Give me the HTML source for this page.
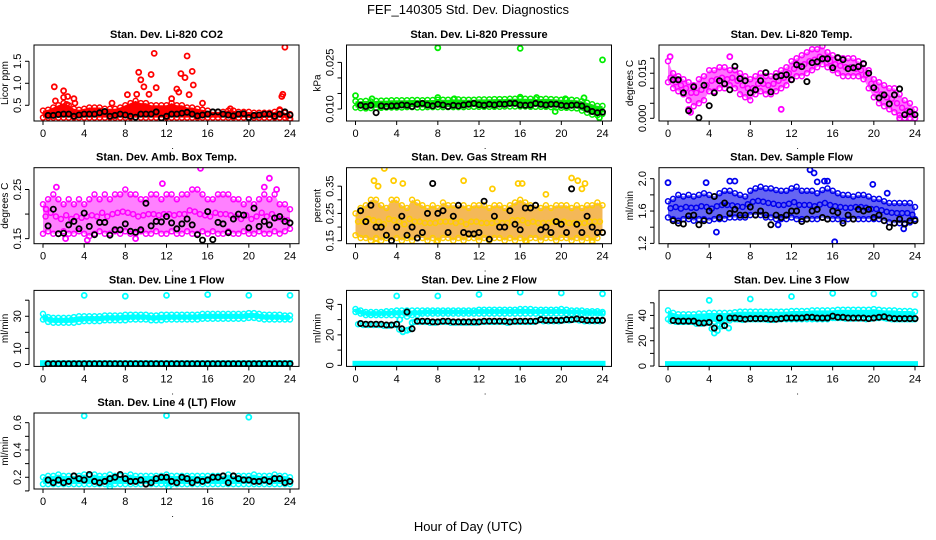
<!DOCTYPE html>
<html><head><meta charset="utf-8"><style>
body{margin:0;background:#fff;}
svg{display:block;font-family:"Liberation Sans",sans-serif;}
</style></head><body>
<svg id="c" width="936" height="540">
<text x="468" y="14" text-anchor="middle" font-size="13">FEF_140305  Std. Dev. Diagnostics</text>
<text x="468" y="531" text-anchor="middle" font-size="13">Hour of Day (UTC)</text>
</svg>
<script>
// ---- data (band lo/hi at 0.5h steps 0..24; black at 0.5..24) ----
const co2Lo=[0.22,0.22,0.22,0.22,0.22,0.22,0.22,0.22,0.22,0.22,0.22,0.22,0.22,0.22,0.22,0.22,0.22,0.22,0.22,0.22,0.22,0.22,0.22,0.22,0.22,0.22,0.22,0.22,0.22,0.22,0.22,0.22,0.22,0.22,0.22,0.22,0.22,0.22,0.22,0.22,0.22,0.22,0.22,0.22,0.22,0.22,0.22,0.22,0.2];
const co2Hi=[0.38,0.4,0.45,0.5,0.55,0.5,0.42,0.4,0.42,0.45,0.45,0.45,0.42,0.42,0.42,0.45,0.5,0.55,0.6,0.55,0.55,0.5,0.5,0.5,0.5,0.55,0.5,0.5,0.45,0.45,0.42,0.4,0.38,0.35,0.35,0.35,0.38,0.38,0.35,0.35,0.35,0.33,0.33,0.33,0.33,0.35,0.38,0.33,0.3];
const co2Out=[[1.1,0.92],[2,0.83],[2,0.68],[2.4,0.7],[3,0.65],[2.3,0.52],[8.2,0.74],[9.3,1.25],[9.5,1.08],[9.8,0.92],[10.5,1.2],[10.8,1.68],[11,0.9],[9.1,0.75],[10.3,0.75],[13,0.87],[13.4,1.22],[13.8,1.13],[14,1.62],[14.5,1.27],[14.6,0.96],[14.2,0.74],[13.2,0.8],[15.5,0.55],[23.5,1.82],[23.3,0.75],[23.2,0.7],[6.7,0.55],[12.5,0.65],[1.2,0.6],[3.1,0.55],[18.2,0.42],[23,0.4],[24,0.18]];
const co2Blk=[0.27,0.27,0.29,0.3,0.3,0.25,0.28,0.3,0.3,0.3,0.33,0.36,0.25,0.27,0.3,0.28,0.25,0.23,0.3,0.3,0.3,0.35,0.21,0.25,0.3,0.3,0.32,0.34,0.3,0.26,0.28,0.3,0.35,0.35,0.3,0.28,0.26,0.3,0.31,0.22,0.27,0.28,0.3,0.3,0.25,0.3,0.35,0.28];

const prLo=[0.0105,0.0103,0.0102,0.0103,0.0104,0.0104,0.0105,0.0105,0.0105,0.0105,0.0106,0.0106,0.0105,0.0105,0.0106,0.0106,0.0106,0.0106,0.0106,0.0106,0.0106,0.0106,0.0107,0.0107,0.0107,0.0107,0.0107,0.0107,0.0107,0.0108,0.0108,0.0108,0.0108,0.0108,0.0107,0.0107,0.0107,0.0107,0.0106,0.0105,0.0104,0.0104,0.0103,0.0102,0.0095,0.0088,0.0082,0.008,0.0084];
const prHi=[0.0125,0.0125,0.0126,0.0124,0.0126,0.0127,0.0127,0.0128,0.0128,0.0128,0.0128,0.0129,0.0129,0.0128,0.0129,0.0129,0.013,0.013,0.013,0.0131,0.0131,0.013,0.013,0.013,0.0131,0.0131,0.0131,0.0132,0.0132,0.0132,0.0133,0.0133,0.0133,0.0133,0.0133,0.0132,0.0132,0.0133,0.0132,0.0131,0.013,0.013,0.013,0.0128,0.0125,0.012,0.0115,0.011,0.011];
const prOut=[[0,0.0143],[8,0.0297],[16,0.0295],[24,0.0258],[8,0.0137],[16,0.0138],[17.6,0.0137],[23.7,0.0072],[19.4,0.0092],[1.6,0.0133],[9.6,0.0133],[22.2,0.0136],[20.4,0.0133]];
const prBlk=[0.0112,0.0108,0.0112,0.0088,0.011,0.0108,0.011,0.011,0.0113,0.0112,0.0108,0.0115,0.0118,0.0113,0.011,0.0115,0.0113,0.0108,0.0112,0.011,0.0113,0.0115,0.0118,0.0114,0.0112,0.0115,0.0113,0.0116,0.0115,0.0118,0.0118,0.0113,0.0112,0.0113,0.0118,0.0115,0.0113,0.0115,0.0115,0.0112,0.011,0.0112,0.0113,0.011,0.01,0.0092,0.0088,0.009];

const tpLo=[0.012,0.01,0.009,0.008,0.006,0.004,0.005,0.006,0.009,0.009,0.01,0.01,0.011,0.01,0.008,0.007,0.006,0.008,0.009,0.008,0.008,0.009,0.01,0.011,0.013,0.014,0.014,0.015,0.016,0.017,0.018,0.017,0.016,0.015,0.014,0.014,0.014,0.014,0.013,0.01,0.007,0.005,0.004,0.003,0.002,0.001,0.0,0.0,0.0];
const tpHi=[0.019,0.015,0.014,0.013,0.012,0.011,0.013,0.014,0.016,0.016,0.017,0.017,0.016,0.016,0.015,0.014,0.013,0.014,0.015,0.014,0.014,0.015,0.016,0.017,0.019,0.02,0.021,0.022,0.023,0.023,0.024,0.022,0.021,0.02,0.02,0.02,0.02,0.019,0.018,0.016,0.013,0.012,0.011,0.01,0.01,0.008,0.006,0.005,0.003];
const tpOut=[[0.2,0.0205],[2.2,0.002],[2,0.003],[6,0.0205],[11,0.003],[22.5,0.0],[23,0.0],[23.5,0.0]];
const tpBlk=[0.0128,0.0128,0.0085,0.0025,0.0105,0.0002,0.011,0.0042,0.0085,0.0125,0.0115,0.0095,0.0173,0.0132,0.0125,0.0085,0.0095,0.0125,0.0152,0.0088,0.0138,0.0142,0.0145,0.0128,0.0178,0.0172,0.0122,0.0185,0.0188,0.0198,0.0198,0.0168,0.0202,0.0195,0.0165,0.0168,0.0172,0.0182,0.015,0.0102,0.0068,0.0078,0.0048,0.0078,0.0098,0.0012,0.0022,0.0012];

const amLo=[0.16,0.165,0.16,0.16,0.165,0.16,0.16,0.165,0.16,0.155,0.16,0.165,0.16,0.16,0.165,0.16,0.165,0.16,0.16,0.165,0.16,0.16,0.165,0.16,0.16,0.165,0.16,0.16,0.165,0.16,0.16,0.165,0.16,0.165,0.16,0.16,0.165,0.16,0.16,0.165,0.16,0.16,0.165,0.16,0.16,0.165,0.16,0.165,0.17];
const amHi=[0.22,0.23,0.24,0.23,0.22,0.23,0.22,0.23,0.22,0.23,0.24,0.23,0.24,0.23,0.24,0.24,0.25,0.24,0.24,0.23,0.23,0.24,0.24,0.23,0.24,0.24,0.23,0.24,0.24,0.25,0.25,0.24,0.23,0.23,0.24,0.24,0.24,0.23,0.23,0.22,0.23,0.22,0.23,0.24,0.23,0.24,0.22,0.22,0.21];
const amOut=[[15.3,0.293],[22,0.273],[1.3,0.255],[11.6,0.262],[21.5,0.255],[22.7,0.25],[4.3,0.147],[9,0.15],[2.2,0.15],[0.3,0.21]];
const amBlk=[0.176,0.21,0.16,0.161,0.178,0.185,0.17,0.202,0.175,0.158,0.183,0.183,0.157,0.168,0.168,0.18,0.165,0.163,0.168,0.222,0.176,0.185,0.184,0.195,0.182,0.17,0.18,0.19,0.178,0.158,0.147,0.205,0.148,0.183,0.18,0.162,0.19,0.2,0.198,0.172,0.212,0.175,0.185,0.178,0.192,0.195,0.185,0.182];

const rhLo=[0.17,0.16,0.16,0.15,0.16,0.15,0.16,0.15,0.16,0.15,0.16,0.15,0.16,0.16,0.15,0.16,0.15,0.16,0.16,0.15,0.16,0.15,0.16,0.16,0.15,0.16,0.15,0.16,0.16,0.15,0.16,0.15,0.16,0.15,0.16,0.16,0.15,0.16,0.16,0.15,0.16,0.16,0.15,0.16,0.15,0.16,0.15,0.16,0.18];
const rhHi=[0.25,0.27,0.28,0.3,0.3,0.28,0.27,0.3,0.3,0.28,0.27,0.3,0.29,0.28,0.27,0.28,0.27,0.29,0.28,0.28,0.28,0.28,0.27,0.28,0.28,0.28,0.27,0.28,0.28,0.27,0.28,0.29,0.3,0.29,0.28,0.28,0.27,0.28,0.27,0.28,0.28,0.28,0.27,0.28,0.27,0.28,0.28,0.29,0.28];
const rhOut=[[2.8,0.415],[1.8,0.37],[2.2,0.35],[3.7,0.37],[4.6,0.36],[10.5,0.37],[15.8,0.36],[16.2,0.36],[21,0.38],[21.6,0.37],[22.3,0.36],[22,0.34],[13.3,0.34],[18.5,0.32],[2,0.14],[7.9,0.145],[16.6,0.145],[23,0.145]];
const rhBlk=[0.26,0.22,0.28,0.2,0.2,0.17,0.15,0.2,0.24,0.17,0.2,0.16,0.18,0.25,0.36,0.25,0.26,0.18,0.24,0.28,0.18,0.175,0.175,0.18,0.295,0.155,0.24,0.2,0.2,0.26,0.21,0.19,0.27,0.27,0.28,0.19,0.2,0.18,0.22,0.21,0.18,0.34,0.21,0.18,0.24,0.2,0.18,0.18];

const flLo=[1.52,1.5,1.48,1.5,1.5,1.48,1.5,1.5,1.48,1.5,1.5,1.5,1.52,1.52,1.52,1.52,1.55,1.55,1.55,1.52,1.52,1.5,1.5,1.5,1.52,1.5,1.5,1.5,1.5,1.5,1.52,1.5,1.5,1.5,1.48,1.5,1.5,1.5,1.5,1.5,1.5,1.5,1.48,1.46,1.45,1.45,1.45,1.46,1.5];
const flHi=[1.72,1.75,1.8,1.78,1.8,1.78,1.8,1.82,1.8,1.78,1.82,1.85,1.85,1.82,1.8,1.78,1.85,1.88,1.9,1.88,1.88,1.86,1.85,1.85,1.88,1.9,1.85,1.85,1.85,1.82,1.86,1.88,1.85,1.82,1.8,1.8,1.78,1.8,1.8,1.78,1.75,1.75,1.72,1.7,1.7,1.7,1.7,1.7,1.65];
const flOut=[[0,1.95],[3.7,1.95],[6,1.97],[6.5,1.97],[13.8,2.11],[14.2,2.07],[14.5,1.96],[15.2,1.97],[15.5,1.97],[19.9,1.93],[21.3,1.82],[16.2,1.22],[4.7,1.34],[22.9,1.38],[10.7,1.43]];
const flBlk=[1.48,1.45,1.44,1.54,1.55,1.43,1.48,1.6,1.78,1.52,1.7,1.57,1.62,1.55,1.55,1.65,1.55,1.6,1.55,1.43,1.55,1.52,1.55,1.6,1.6,1.47,1.5,1.6,1.62,1.52,1.5,1.6,1.58,1.45,1.55,1.5,1.62,1.6,1.62,1.52,1.55,1.48,1.4,1.45,1.5,1.44,1.48,1.48];

const l1Lo=[28,26.5,26,26,26,26,26,26.5,27,27,27,27,27.5,27.5,27.5,27.5,27.5,28,28,28,28,27.5,27.5,27.5,28,28,28,28,28,28,28,28.5,28.5,28.5,28.5,28.5,28.5,28.5,28.5,28.5,29,29,28.5,28,28,28,28,28,28];
const l1Hi=[31.5,29.5,29,29,29,29,29.5,30,30,30,30,30,30.5,30.5,30.5,30.5,31,31,31,31,31,30.5,30.5,31,31,31,31,31,31,31,31,31.5,31.5,31.5,31.5,31.5,31.5,31.5,31.5,31.5,32,32,31.5,31,31,31,31,30.5,30.5];
const l1Out=[[4,43],[8,42.5],[12,43],[16,43.5],[20,43],[24,43]];
const l1Bot=[0.8];
const l1Blk=[0.5,0.5,0.5,0.5,0.5,0.5,0.5,0.5,0.5,0.5,0.5,0.5,0.5,0.5,0.5,0.5,0.5,0.5,0.5,0.5,0.5,0.5,0.5,0.5,0.5,0.5,0.5,0.5,0.5,0.5,0.5,0.5,0.5,0.5,0.5,0.5,0.5,0.5,0.5,0.5,0.5,0.5,0.5,0.5,0.5,0.5,0.5,0.5];

const l2Lo=[35,34,33,33,33,33,33,33,33,33,32,33,33,34,34,34,34,34,34,34,34,34,34,34,34,34,34,34,34,34,34,34,34,34,34,34,34,34,34,34,34,34,34,34,34,34,34,34,34];
const l2Hi=[37,36,35,35,35,35,35.5,35.5,36,36,36,36,36,36,36,36,36,36,36,36,36,36,36,36,36.5,36.5,36.5,36.5,36.5,36.5,36.5,36.5,37,37,37,36.5,36.5,36.5,36.5,36.5,37,36.5,36,36,36,35.5,35.5,35.5,35];
const l2Out=[[4,45.5],[8,45.5],[12,46.5],[16,48],[20,47.5],[24,47],[4.6,22],[5,23],[5.5,28],[4.3,30]];
const l2Bot=[1.0];
const l2Blk=[27.5,27,27,27,27,26.5,26.5,27,24,35,24,29,29,29,28.5,28.5,29,29,28.5,28.5,28.5,28.5,28.5,28.5,29,29,29,29,29,28.5,29,29,29,29,29,30,29.5,29.5,29.5,29.5,30,30,30.5,30,29.5,29.5,29.5,29.5];

const l3Lo=[37,36,35,35,35,35,35,35,35,35,33,35,36,37,37,37,37,37,37,37,37,37,37,37,37,37,37,37,37,37,37,37,38,38,38,38,38,38,38,38,38,38,38,38,37,37,37,37,37];
const l3Hi=[44,42,41,41,41,41,41.5,41.5,42,42,42,42,42,42.5,43,43,43,43,43,43,43,43,43,43,43.5,43.5,43.5,43.5,44,44,44,44,44,44.5,44.5,44.5,44.5,44.5,44.5,44.5,45,44.5,44,44,44,43.5,43.5,43.5,43];
const l3Out=[[4,52],[8,53],[12,55],[16,57.5],[20,57],[24,56.5],[4.5,26],[4.8,28],[5.9,30]];
const l3Bot=[1.5];
const l3Blk=[36,35.5,35.5,35.5,35.5,34,34,34.5,30,38,32,38,38,37.5,37,37.5,37.5,37.5,37.5,37,37,37.5,38,38,38,38,38.5,38.5,38,38,38,39.5,38.5,38.5,38,38,38,38,37.5,38,38.5,39,38,37.5,37.5,37.5,37.5,37.5];

const l4Lo=[0.15,0.15,0.15,0.15,0.15,0.15,0.15,0.15,0.15,0.15,0.15,0.15,0.15,0.15,0.15,0.15,0.15,0.15,0.15,0.15,0.15,0.15,0.15,0.15,0.15,0.15,0.15,0.15,0.15,0.15,0.15,0.15,0.15,0.15,0.15,0.15,0.15,0.15,0.15,0.15,0.15,0.15,0.15,0.15,0.15,0.15,0.15,0.15,0.15];
const l4Hi=[0.2,0.21,0.21,0.22,0.21,0.21,0.21,0.21,0.22,0.21,0.22,0.21,0.21,0.22,0.21,0.21,0.21,0.22,0.21,0.21,0.21,0.21,0.21,0.21,0.22,0.21,0.21,0.21,0.21,0.21,0.21,0.21,0.21,0.21,0.21,0.21,0.22,0.21,0.21,0.21,0.21,0.22,0.21,0.21,0.21,0.22,0.21,0.21,0.2];
const l4Out=[[4,0.65],[12,0.652],[20,0.64],[12.2,0.13],[6.5,0.13]];
const l4Blk=[0.18,0.16,0.18,0.16,0.17,0.21,0.19,0.18,0.22,0.17,0.16,0.17,0.19,0.2,0.22,0.19,0.17,0.17,0.18,0.15,0.16,0.19,0.2,0.2,0.17,0.16,0.2,0.19,0.16,0.18,0.17,0.18,0.2,0.2,0.21,0.16,0.21,0.19,0.18,0.18,0.17,0.17,0.18,0.17,0.19,0.19,0.16,0.17];

const xTicks=[0,4,8,12,16,20,24];

// ---- layout ----
const colX=[34,346.5,659], rowY=[45,167.7,290.4,413], BW=265, BH=76;
const panels=[
 {t:"Stan. Dev. Li-820 CO2",yl:"Licor ppm",c:0,r:0,y0:0.143,y1:1.87,ticks:[0.5,1.0,1.5],lab:["0.5","1.0","1.5"],lo:co2Lo,hi:co2Hi,out:co2Out,blk:co2Blk,col:"#ff0000",fill:"#ff0000"},
 {t:"Stan. Dev. Li-820 Pressure",yl:"kPa",c:1,r:0,y0:0.00614,y1:0.0306,ticks:[0.010,0.015,0.020,0.025],lab:["0.010","","","0.025"],lo:prLo,hi:prHi,out:prOut,blk:prBlk,col:"#00ee00",fill:"#22cc22"},
 {t:"Stan. Dev. Li-820 Temp.",yl:"degrees C",c:2,r:0,y0:-0.0009,y1:0.0244,ticks:[0,0.005,0.010,0.015,0.020],lab:["0.000","","","0.015",""],lo:tpLo,hi:tpHi,out:tpOut,blk:tpBlk,col:"#ff00ff",fill:"#ff44ff",sparse:true},
 {t:"Stan. Dev. Amb. Box Temp.",yl:"degrees C",c:0,r:1,y0:0.1397,y1:0.2944,ticks:[0.15,0.20,0.25],lab:["0.15","","0.25"],lo:amLo,hi:amHi,out:amOut,blk:amBlk,col:"#ff00ff",fill:"#ff55ff",sparse:true},
 {t:"Stan. Dev. Gas Stream RH",yl:"percent",c:1,r:1,y0:0.139,y1:0.4178,ticks:[0.15,0.20,0.25,0.30,0.35],lab:["0.15","","0.25","","0.35"],lo:rhLo,hi:rhHi,out:rhOut,blk:rhBlk,col:"#ffcc00",fill:"#f0a020",sparse:true},
 {t:"Stan. Dev. Sample Flow",yl:"ml/min",c:2,r:1,y0:1.196,y1:2.136,ticks:[1.2,1.4,1.6,1.8,2.0],lab:["1.2","","1.6","","2.0"],lo:flLo,hi:flHi,out:flOut,blk:flBlk,col:"#0000ee",fill:"#3333ee",sparse:true},
 {t:"Stan. Dev. Line 1 Flow",yl:"ml/min",c:0,r:2,y0:-1.2,y1:46.1,ticks:[0,10,20,30,40],lab:["0","10","","30",""],lo:l1Lo,hi:l1Hi,out:l1Out,bot:l1Bot,blk:l1Blk,col:"#00ffff",fill:"#00ffff"},
 {t:"Stan. Dev. Line 2 Flow",yl:"ml/min",c:1,r:2,y0:-0.7,y1:49.2,ticks:[0,10,20,30,40],lab:["0","","20","","40"],lo:l2Lo,hi:l2Hi,out:l2Out,bot:l2Bot,blk:l2Blk,col:"#00ffff",fill:"#00ffff",under:true},
 {t:"Stan. Dev. Line 3 Flow",yl:"ml/min",c:2,r:2,y0:-0.3,y1:59.8,ticks:[0,10,20,30,40,50],lab:["0","","20","","40",""],lo:l3Lo,hi:l3Hi,out:l3Out,bot:l3Bot,blk:l3Blk,col:"#00ffff",fill:"#00ffff",under:true},
 {t:"Stan. Dev. Line 4 (LT) Flow",yl:"ml/min",c:0,r:3,y0:0.114,y1:0.671,ticks:[0.1,0.2,0.3,0.4,0.5,0.6],lab:["","0.2","","0.4","","0.6"],lo:l4Lo,hi:l4Hi,out:l4Out,blk:l4Blk,col:"#00ffff",fill:"#00ffff"}
];
const NS="http://www.w3.org/2000/svg";
const svg=document.getElementById('c');
function mk(tag,at,parent){const e=document.createElementNS(NS,tag);for(const k in at)e.setAttribute(k,at[k]);(parent||svg).appendChild(e);return e;}
function circ(g,x,y,r,stroke,w){return mk('circle',{cx:x.toFixed(1),cy:y.toFixed(1),r:r,fill:'none',stroke:stroke,'stroke-width':w},g);}

panels.forEach((p,pi)=>{
  const L=colX[p.c],T=rowY[p.r];
  const xs=h=>L+9+h*(BW-18)/24;
  const ys=v=>T+BH-(v-p.y0)/(p.y1-p.y0)*BH;
  const slug=p.t.toLowerCase().replace(/[^a-z0-9]+/g,'-').replace(/^-|-$/g,'');
  const g=mk('g',{});
  
  
  const tt=mk('text',{x:L+BW/2,y:T-7,'text-anchor':'middle','font-size':11,'font-weight':'bold'},g);tt.textContent=p.t;
  
  
  const clip=mk('clipPath',{id:'cl'+pi},g);mk('rect',{x:L,y:T,width:BW,height:BH},clip);
  const pg=mk('g',{'clip-path':'url(#cl'+pi+')'},g);
  
  
  const n=p.lo.length;let pts=[];
  for(let i=0;i<n;i++)pts.push(xs(i*0.5).toFixed(1)+','+(ys(p.hi[i])).toFixed(1));
  for(let i=n-1;i>=0;i--)pts.push(xs(i*0.5).toFixed(1)+','+(ys(p.lo[i])).toFixed(1));
  const band=mk('polygon',{points:pts.join(' '),fill:p.fill,opacity:p.sparse?0.75:1},pg);
  
  
  for(let i=0;i<n;i++){
    const x=xs(i*0.5);
    const c1=circ(pg,x,ys(p.hi[i]),2.5,p.col,1.5);
    
    const c2=circ(pg,x,ys(p.lo[i]),2.5,p.col,1.5);
    
    if(i<n-1){
      const c3=circ(pg,xs(i*0.5+0.25),ys((p.lo[i]+p.hi[i+1])/2),2.5,p.col,1.5);
      
    }
  }
  if(p.under){
    for(let i=0;i<p.blk.length;i++){
      const c=circ(pg,xs((i+1)*0.5-0.25),ys(p.blk[i]-0.5),2.5,p.col,1.5);
      
    }
  }
  if(p.bot){
    const br=mk('rect',{x:xs(0)-3,y:ys(p.bot[0])-3,width:xs(24)-xs(0)+6,height:6,fill:p.col},pg);
    
    
  }
  p.out.forEach(o=>{const c=circ(pg,xs(o[0]),ys(o[1]),2.5,p.col,1.8);
    });
  p.blk.forEach((v,i)=>{const c=circ(pg,xs((i+1)*0.5),ys(v),2.6,'#000',1.8);
    });
  const bx=mk('rect',{x:L,y:T,width:BW,height:BH,fill:'none',stroke:'#000','stroke-width':1},g);
  
  
  mk('line',{x1:xs(0),y1:T+BH,x2:xs(24),y2:T+BH,stroke:'#000'},g);
  xTicks.forEach(h=>{
    mk('line',{x1:xs(h),y1:T+BH,x2:xs(h),y2:T+BH+4,stroke:'#000'},g);
    const t=mk('text',{x:xs(h),y:T+BH+16,'text-anchor':'middle','font-size':11},g);t.textContent=h;
    
    
  });
  mk('text',{x:xs(12.6),y:T+BH+28,'font-size':9,'text-anchor':'middle'},g).textContent='.';
  const yb=ys(p.ticks[0]),yt=ys(p.ticks[p.ticks.length-1]);
  mk('line',{x1:L-5,y1:yb,x2:L-5,y2:yt,stroke:'#000'},g);
  p.ticks.forEach((v,i)=>{
    const y=ys(v);
    mk('line',{x1:L-9,y1:y,x2:L-5,y2:y,stroke:'#000'},g);
    if(p.lab[i]){
      const t=mk('text',{x:L-13,y:y,'text-anchor':'middle','font-size':11,transform:'rotate(-90 '+(L-13)+' '+y.toFixed(1)+')'},g);t.textContent=p.lab[i];
      
      
    }
  });
  const cy=T+BH/2;
  const yt2=mk('text',{x:L-26,y:cy,'text-anchor':'middle','font-size':10,transform:'rotate(-90 '+(L-26)+' '+cy+')'},g);yt2.textContent=p.yl;
  
  
});
</script>
</body></html>
